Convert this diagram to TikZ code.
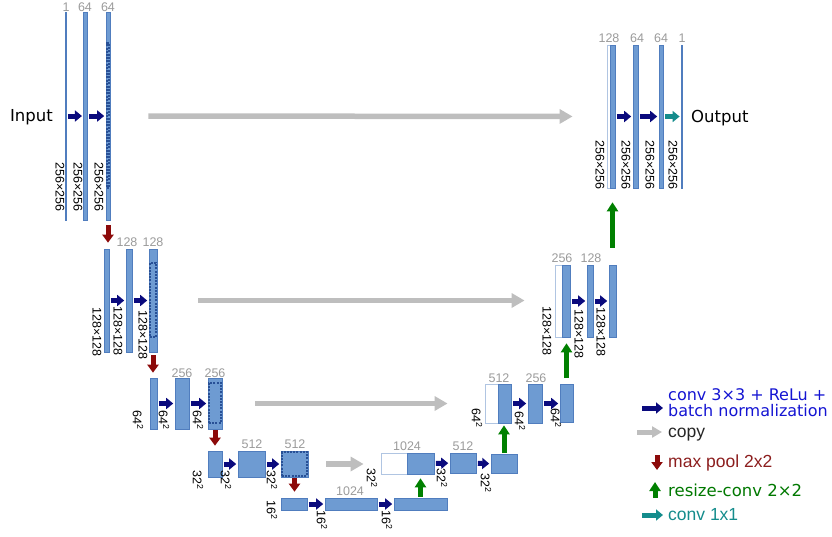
\documentclass[tikz,border=0pt]{standalone}
\usepackage{fontspec}
\setmainfont{Liberation Sans}
\newfontfamily\vfont{DejaVu Sans}
\usetikzlibrary{arrows.meta, positioning}
\definecolor{barblue}{RGB}{110,155,210}
\definecolor{barline}{RGB}{80,125,190}
\definecolor{poolline}{RGB}{40,80,150}
\definecolor{convblue}{RGB}{10,10,125}
\definecolor{copygray}{RGB}{190,190,190}
\definecolor{poolred}{RGB}{140,10,10}
\definecolor{upgreen}{RGB}{0,128,0}
\definecolor{finalteal}{RGB}{20,140,140}
\definecolor{numgray}{RGB}{155,155,155}
\definecolor{legblue}{RGB}{20,20,210}
\definecolor{legred}{RGB}{140,30,30}
\definecolor{leggreen}{RGB}{0,120,0}
\tikzset{
  bar/.style={
      draw=barline,
      fill=barblue,
      rectangle,
      inner sep=0pt,
      line width=0.6pt
  },
  copied/.style={
      draw=barline!45,
      fill=white,
      rectangle,
      inner sep=0pt,
      line width=0.8pt
  },
  pooled/.style={
      draw=poolline,
      dash pattern=on 2pt off 1.2pt,
      line width=1.4pt,
      rectangle,
      inner sep=0pt
  },
  num/.style={text=numgray, inner sep=0pt, font=\fontsize{12.5}{12.5}\selectfont},
  dim/.style={rotate=-90, inner sep=0pt, font=\fontsize{12.5}{12.5}\selectfont},
  legend/.style={inner sep=0pt, align=left},
  conv/.style={-{Triangle[length=7pt, width=11pt]}, line width=5pt, draw=convblue,
      shorten <=1.5pt, shorten >=1.5pt},
  copyarrow/.style={-{Triangle[length=13pt, width=14pt]}, line width=5.5pt, draw=copygray},
  pool/.style={-{Triangle[length=8pt, width=11pt]}, line width=5pt, draw=poolred},
  upconv/.style={-{Triangle[length=9pt, width=11pt]}, line width=5pt, draw=upgreen},
  final/.style={-{Triangle[length=7pt, width=11pt]}, line width=5pt, draw=finalteal,
      shorten <=1.5pt, shorten >=1.5pt}
}

\begin{document}
\begin{tikzpicture}[x=1pt, y=-1pt]
  \useasboundingbox (0,0) rectangle (832,536);

  % Contracting path, level 1
  \node (in1) [bar, minimum width=1.2pt, minimum height=208pt] at (66,116) {};
  \node (d1a) [bar, minimum width=3.5pt, minimum height=208pt] at (85.5,116) {};
  \node (d1b) [bar, minimum width=4pt, minimum height=208pt] at (108,116) {};
  \node (d1p) [pooled, line width=2pt, minimum width=2pt, minimum height=145pt] at (108,115.5) {};
  \node (n1a) [num] at (66,7) {1};
  \node (n1b) [num] at (85,7) {64};
  \node (n1c) [num] at (108,7) {64};
  \node (s1a) [dim] at (60,187) {256×256};
  \node (s1b) [dim] at (78,187) {256×256};
  \node (s1c) [dim] at (99,187) {256×256};
  \node (input) [anchor=base east, font=\vfont\fontsize{16.5}{16.5}\selectfont, inner sep=0pt] at (53,121) {Input};

  % Level 2
  \node (d2a) [bar, minimum width=4.5pt, minimum height=103pt] at (106.75,300.5) {};
  \node (d2b) [bar, minimum width=6pt, minimum height=103pt] at (129,300.5) {};
  \node (d2c) [bar, minimum width=8pt, minimum height=103pt] at (153,300.5) {};
  \node (d2p) [pooled, minimum width=6pt, minimum height=74pt] at (153,300) {};
  \node (n2b) [num] at (127,242) {128};
  \node (n2c) [num] at (153,242) {128};
  \node (s2a) [dim] at (97,332) {128×128};
  \node (s2b) [dim] at (118,331) {128×128};
  \node (s2c) [dim] at (143,335) {128×128};

  % Level 3
  \node (d3a) [bar, minimum width=7pt, minimum height=51pt] at (153.5,403.5) {};
  \node (d3b) [bar, minimum width=14pt, minimum height=51pt] at (182,403.5) {};
  \node (d3c) [bar, minimum width=14pt, minimum height=51pt] at (215,403.5) {};
  \node (d3p) [pooled, minimum width=12pt, minimum height=40pt] at (215,403) {};
  \node (n3b) [num] at (182,373) {256};
  \node (n3c) [num] at (215,373) {256};
  \node (s3a) [dim] at (138,420) {64\textsuperscript{2}};
  \node (s3b) [dim] at (164,420) {64\textsuperscript{2}};
  \node (s3c) [dim] at (198,420) {64\textsuperscript{2}};

  % Level 4
  \node (d4a) [bar, minimum width=14pt, minimum height=26pt] at (215,464) {};
  \node (d4b) [bar, minimum width=27pt, minimum height=26pt] at (251.5,464) {};
  \node (d4c) [bar, minimum width=27pt, minimum height=26pt] at (294.5,464) {};
  \node (d4p) [pooled, minimum width=25pt, minimum height=24pt] at (294.5,464) {};
  \node (n4b) [num] at (252,444) {512};
  \node (n4c) [num] at (295,444) {512};
  \node (s4a) [dim] at (198,480) {32\textsuperscript{2}};
  \node (s4b) [dim] at (226,480) {32\textsuperscript{2}};
  \node (s4c) [dim] at (272,480) {32\textsuperscript{2}};

  % Bottom level
  \node (b5a) [bar, minimum width=26pt, minimum height=12pt] at (294,504) {};
  \node (b5b) [bar, minimum width=52pt, minimum height=12pt] at (351,504) {};
  \node (b5c) [bar, minimum width=53pt, minimum height=12pt] at (420.5,504) {};
  \node (n5b) [num] at (350,491) {1024};
  \node (s5a) [dim] at (272,510) {16\textsuperscript{2}};
  \node (s5b) [dim] at (322,520) {16\textsuperscript{2}};
  \node (s5c) [dim] at (387,520) {16\textsuperscript{2}};

  % Expanding path, level 4
  \node (u4w) [copied, minimum width=26pt, minimum height=21pt] at (394,463.5) {};
  \node (u4a) [bar, minimum width=27pt, minimum height=21pt] at (420.5,463.5) {};
  \node (u4b) [bar, minimum width=26pt, minimum height=20pt] at (463,463) {};
  \node (u4c) [bar, minimum width=26pt, minimum height=19pt] at (504,464) {};
  \node (n6a) [num] at (407,446) {1024};
  \node (n6b) [num] at (463,446) {512};
  \node (s6a) [dim] at (372,478) {32\textsuperscript{2}};
  \node (s6b) [dim] at (442,478) {32\textsuperscript{2}};
  \node (s6c) [dim] at (486,483) {32\textsuperscript{2}};

  % Level 3
  \node (u3w) [copied, minimum width=13pt, minimum height=39pt] at (491.5,403.5) {};
  \node (u3a) [bar, minimum width=13pt, minimum height=39pt] at (504.5,403.5) {};
  \node (u3b) [bar, minimum width=14pt, minimum height=39pt] at (535,403.5) {};
  \node (u3c) [bar, minimum width=13pt, minimum height=38pt] at (566.5,403.5) {};
  \node (n7a) [num] at (499,378) {512};
  \node (n7b) [num] at (536,378) {256};
  \node (s7a) [dim] at (477,418) {64\textsuperscript{2}};
  \node (s7b) [dim] at (520,421) {64\textsuperscript{2}};
  \node (s7c) [dim] at (556,418) {64\textsuperscript{2}};

  % Level 2
  \node (u2w) [copied, minimum width=7pt, minimum height=72pt] at (558.5,301) {};
  \node (u2a) [bar, minimum width=8pt, minimum height=72pt] at (566,301) {};
  \node (u2b) [bar, minimum width=6pt, minimum height=72pt] at (590,301) {};
  \node (u2c) [bar, minimum width=7pt, minimum height=72pt] at (612.5,301) {};
  \node (n8a) [num] at (562,258) {256};
  \node (n8b) [num] at (591,258) {128};
  \node (s8a) [dim] at (547,331) {128×128};
  \node (s8b) [dim] at (579,334) {128×128};
  \node (s8c) [dim] at (601,332) {128×128};

  % Level 1
  \node (u1w) [copied, minimum width=3pt, minimum height=143pt] at (608.5,116.5) {};
  \node (u1a) [bar, minimum width=5pt, minimum height=143pt] at (612.5,116.5) {};
  \node (u1b) [bar, minimum width=5pt, minimum height=143pt] at (635.5,116.5) {};
  \node (u1c) [bar, minimum width=4pt, minimum height=143pt] at (661,116.5) {};
  \node (out1) [bar, minimum width=1.2pt, minimum height=143pt] at (682,116.5) {};
  \node (n9a) [num] at (609,38) {128};
  \node (n9b) [num] at (637,38) {64};
  \node (n9c) [num] at (661,38) {64};
  \node (n9d) [num] at (682,38) {1};
  \node (s9a) [dim] at (600,165) {256×256};
  \node (s9b) [dim] at (626,165) {256×256};
  \node (s9c) [dim] at (650,165) {256×256};
  \node (s9d) [dim] at (673,165) {256×256};
  \node (output) [anchor=base west, font=\vfont\fontsize{16.5}{16.5}\selectfont, inner sep=0pt] at (691,122) {Output};

  % Convolutions
  \draw[conv] (in1) -- (d1a);
  \draw[conv] (d1a) -- (d1b);
  \draw[conv] (d2a) -- (d2b);
  \draw[conv] (d2b) -- (d2c);
  \draw[conv] (d3a) -- (d3b);
  \draw[conv] (d3b) -- (d3c);
  \draw[conv] (d4a) -- (d4b);
  \draw[conv] (d4b) -- (d4c);
  \draw[conv] (b5a) -- (b5b);
  \draw[conv] (b5b) -- (b5c);
  \draw[conv] (u4a) -- (u4b);
  \draw[conv] (u4b) -- (u4c);
  \draw[conv] (u3a) -- (u3b);
  \draw[conv] (u3b) -- (u3c);
  \draw[conv] (u2a) -- (u2b);
  \draw[conv] (u2b) -- (u2c);
  \draw[conv] (u1a) -- (u1b);
  \draw[conv] (u1b) -- (u1c);
  \draw[final] (u1c) -- (out1);

  % Copies
  \draw[copyarrow, shorten <=38pt, shorten >=34pt] (d1b.east) -- (u1w.west);
  \draw[copyarrow, shorten <=41pt, shorten >=30pt] (d2c.east) -- (u2w.west |- d2c.east);
  \draw[copyarrow, shorten <=33pt, shorten >=37pt] (d3c.east) -- (u3w.west);
  \draw[copyarrow, shorten <=18pt, shorten >=17pt] (d4c.east) -- (u4w.west |- d4c.east);

  % Max pooling
  \draw[pool, shorten <=5pt, shorten >=6pt] (d1b.south) -- (d1b.south |- d2a.north);
  \draw[pool, shorten <=3pt, shorten >=5pt] (d2c.south) -- (d2c.south |- d3a.north);
  \draw[pool, shorten <=1pt, shorten >=5pt] (d3c.south) -- (d3c.south |- d4a.north);
  \draw[pool, shorten <=1pt, shorten >=6pt] (d4c.south) -- (d4c.south |- b5a.north);

  % Resize-convolutions
  \draw[upconv, shorten <=1pt, shorten >=4pt] (b5c.north) -- (b5c.north |- u4a.south);
  \draw[upconv, shorten <=1pt, shorten >=2pt] (u4c.north) -- (u4c.north |- u3a.south);
  \draw[upconv, shorten <=6pt, shorten >=6pt] (u3c.north) -- (u3c.north |- u2a.south);
  \draw[upconv, shorten <=17pt, shorten >=14pt] (u2c.north) -- (u2c.north |- u1a.south);

  % Legend
  \coordinate (k1a) at (642,408);
  \coordinate (k1b) at (663,408);
  \coordinate (k2a) at (637,432);
  \coordinate (k2b) at (662,432);
  \coordinate (k3a) at (657,455);
  \coordinate (k3b) at (657,470);
  \coordinate (k4a) at (655,498);
  \coordinate (k4b) at (655,482);
  \coordinate (k5a) at (642,515);
  \coordinate (k5b) at (663,515);
  \draw[conv, shorten <=0pt, shorten >=0pt] (k1a) -- (k1b);
  \draw[copyarrow, -{Triangle[length=10pt, width=11pt]}, line width=5pt] (k2a) -- (k2b);
  \draw[pool] (k3a) -- (k3b);
  \draw[upconv] (k4a) -- (k4b);
  \draw[final, shorten <=0pt, shorten >=0pt] (k5a) -- (k5b);
  \node (t1) [legend, anchor=west, text=legblue, font=\vfont\fontsize{16}{16}\selectfont] at (668,403) {conv 3×3 + ReLu +\\batch normalization};
  \node (t2) [legend, anchor=base west, text=black!85, font=\fontsize{17.5}{17.5}\selectfont] at (668,437) {copy};
  \node (t3) [legend, anchor=base west, text=legred, font=\fontsize{17.5}{17.5}\selectfont] at (668,467) {max pool 2x2};
  \node (t4) [legend, anchor=base west, text=leggreen, font=\vfont\fontsize{16.5}{16.5}\selectfont] at (668,496) {resize-conv 2×2};
  \node (t5) [legend, anchor=base west, text=finalteal, font=\fontsize{17.5}{17.5}\selectfont] at (668,520) {conv 1x1};
\end{tikzpicture}
\end{document}
